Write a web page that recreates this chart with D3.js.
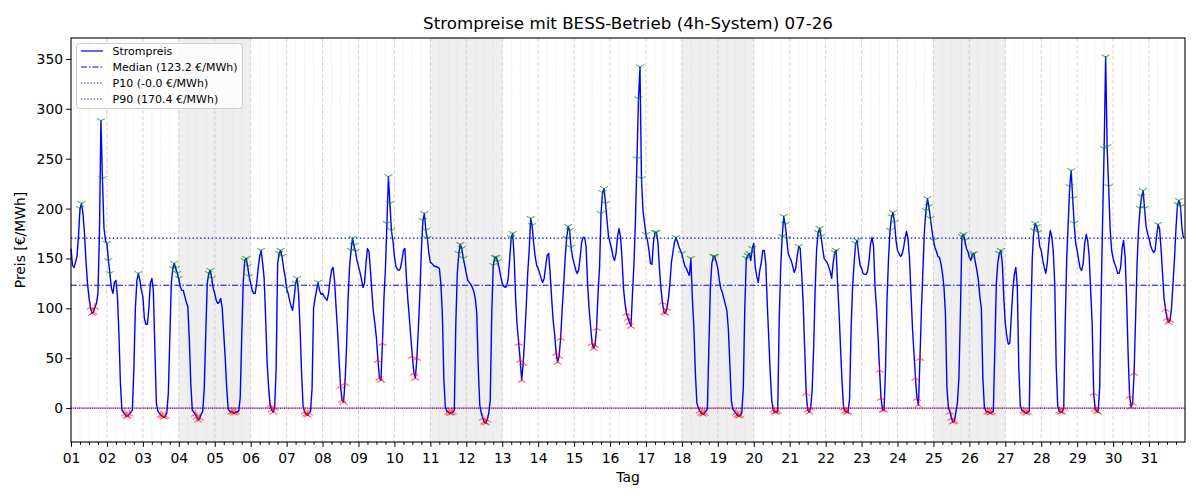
<!DOCTYPE html>
<html>
<head>
<meta charset="utf-8">
<script src="https://cdn.jsdelivr.net/npm/d3@7"></script>
<style>
body { margin: 0; background: #fff; }
text { font-family: "DejaVu Sans", sans-serif; }
</style>
</head>
<body>
<script>
// hourly prices in €/MWh, one array per day of July 2026 (hour 0..23)
const d01 = [160,143,141,146,152,172,200,205,195,175,148,125,111,101,95,96,101,105,115,175,288,230,181,168];
const d02 = [165,148,135,120,115,126,128,112,75,25,-2,-4,-6,-8,-8,-6,-4,-2,40,100,128,135,128,118];
const d03 = [112,90,84,84,100,125,130,118,60,5,-3,-5,-7,-8,-9,-8,-5,15,70,125,140,145,140,135];
const d04 = [130,122,118,118,112,106,102,70,25,-2,-4,-6,-9,-12,-10,-6,-3,20,75,125,135,138,130,120];
const d05 = [115,108,105,106,110,100,75,50,20,-1,-3,-4,-4,-5,-4,-4,-3,10,70,125,148,150,142,132];
const d06 = [125,118,115,115,125,140,152,158,145,130,90,45,20,3,-2,-4,0,40,145,155,158,152,140,132];
const d07 = [120,115,108,102,98,110,125,130,115,80,35,2,-4,-6,-7,-5,-3,20,100,110,118,126,118,114];
const d08 = [115,112,110,108,115,128,138,141,128,102,78,50,22,8,6,25,60,108,141,158,170,163,157,148];
const d09 = [142,136,129,121,125,145,160,157,138,115,96,84,70,48,30,28,65,110,140,185,232,205,178,168];
const d10 = [152,142,139,138,140,148,158,160,131,108,90,70,52,35,30,50,80,115,158,188,195,178,170,155];
const d11 = [146,145,143,142,142,141,140,125,95,30,1,-3,-4,-5,-5,-4,-2,85,135,155,164,160,150,143];
const d12 = [135,128,126,124,121,117,110,95,40,3,-5,-10,-14,-15,-12,-5,8,95,143,151,151,147,140,132];
const d13 = [125,122,121,122,130,150,171,175,150,108,82,65,48,28,45,70,101,135,158,190,183,165,152,143];
const d14 = [140,135,130,126,130,142,153,155,135,110,88,74,55,46,52,70,98,122,150,170,182,178,161,151];
const d15 = [145,139,135,138,150,166,171,171,162,125,100,82,65,60,63,80,115,141,195,216,220,205,188,172];
const d16 = [166,160,152,148,155,172,180,172,150,120,105,95,90,86,82,115,145,190,250,310,342,230,198,186];
const d17 = [174,168,158,145,144,166,176,176,166,140,120,106,96,95,100,110,125,146,156,166,171,167,162,158];
const d18 = [155,148,142,140,136,133,150,110,80,35,5,0,-3,-5,-6,-5,-3,-1,60,120,145,152,152,146];
const d19 = [140,128,120,116,110,104,98,80,45,8,-1,-3,-5,-7,-8,-7,-5,20,100,150,153,155,148,160];
const d20 = [165,141,132,126,138,146,158,158,145,105,70,35,8,-2,-4,-4,-3,90,142,172,192,184,170,155];
const d21 = [151,148,142,136,140,152,162,160,135,105,60,15,-2,-4,0,18,60,120,160,176,180,172,160,150];
const d22 = [148,146,142,137,130,145,156,158,125,95,58,25,0,-3,-4,-4,10,80,122,145,165,168,155,143];
const d23 = [140,135,134,134,137,148,165,171,162,121,100,72,38,10,-2,-2,40,110,150,178,192,196,186,168];
const d24 = [158,155,152,154,160,170,177,170,150,115,80,55,30,10,3,50,100,140,178,198,210,202,190,178];
const d25 = [168,161,157,152,151,145,135,122,95,20,0,-4,-10,-14,-13,-4,5,30,95,172,174,168,160,157];
const d26 = [151,148,154,155,146,138,128,112,100,30,1,-3,-4,-4,-5,-4,-3,60,125,146,155,158,145,110];
const d27 = [85,72,64,65,92,118,134,141,122,40,2,-2,-3,-4,-5,-4,-3,90,150,178,185,182,176,162];
const d28 = [158,148,141,135,145,165,178,172,158,125,41,2,-3,-4,-4,0,85,150,185,222,238,210,185,165];
const d29 = [158,148,140,138,145,165,174,168,152,118,85,15,-1,-3,-4,20,110,190,260,352,262,222,180,158];
const d30 = [150,145,141,135,135,141,160,168,152,110,55,12,1,5,35,90,145,180,200,212,218,200,182,175];
const d31 = [170,163,159,156,158,172,184,180,160,135,110,99,90,86,88,100,125,150,181,204,208,202,180,170];

const days = [d01,d02,d03,d04,d05,d06,d07,d08,d09,d10,d11,d12,d13,d14,d15,d16,
              d17,d18,d19,d20,d21,d22,d23,d24,d25,d26,d27,d28,d29,d30,d31];

const medianPrice = 123.2;
const p10Price = -0.0;
const p90Price = 170.4;
const saturdays = [4, 11, 18, 25];
const yTicks = [0, 50, 100, 150, 200, 250, 300, 350];
const storageHours = 4;

function main(){
    const canvasWidth = 1200;
    const canvasHeight = 500;
    const left = 71, right = 1185, top = 38, bottom = 442;

    const svg = d3.select("body").append("svg")
        .attr("width", canvasWidth)
        .attr("height", canvasHeight);

    const day = d => new Date(Date.UTC(2026, 6, d));
    const xScale = d3.scaleUtc().domain([day(1), day(32)]).range([left, right]);
    const yScale = d3.scaleLinear().domain([-34, 371]).range([bottom, top]);

    const points = [];
    const charge = [];
    const discharge = [];
    days.forEach((vals, i) => {
        const pts = vals.map((v, h) => ({t: new Date(Date.UTC(2026, 6, i + 1, h)), v: v}));
        points.push(...pts);
        // cheapest hours charge, dearest hours discharge
        const order = d3.range(vals.length).sort((a, b) => vals[a] - vals[b]);
        order.slice(0, storageHours).forEach(h => charge.push(pts[h]));
        order.slice(-storageHours).forEach(h => discharge.push(pts[h]));
    });

    // weekend shading
    svg.selectAll(".weekend")
        .data(saturdays)
        .enter()
        .append("rect")
        .attr("x", d => xScale(day(d)))
        .attr("y", top)
        .attr("width", d => xScale(day(d + 2)) - xScale(day(d)))
        .attr("height", bottom - top)
        .attr("fill", "#efefef");

    // vertical grid: dotted every 6 h, dashed every day
    const minorTimes = d3.utcHour.every(6).range(day(1), day(32)).filter(t => t.getUTCHours() !== 0);
    svg.append("g").selectAll("line")
        .data(minorTimes)
        .enter()
        .append("line")
        .attr("x1", d => xScale(d)).attr("x2", d => xScale(d))
        .attr("y1", top).attr("y2", bottom)
        .attr("stroke", "#dcdcdc")
        .attr("stroke-width", 0.8)
        .attr("stroke-dasharray", "1,1.6");

    const dayTimes = d3.range(2, 32).map(day);
    svg.append("g").selectAll("line")
        .data(dayTimes)
        .enter()
        .append("line")
        .attr("x1", d => xScale(d)).attr("x2", d => xScale(d))
        .attr("y1", top).attr("y2", bottom)
        .attr("stroke", "#cccccc")
        .attr("stroke-width", 0.8)
        .attr("stroke-dasharray", "4,2");

    // reference lines
    const hline = (v, color, dash, width) => svg.append("line")
        .attr("x1", left).attr("x2", right)
        .attr("y1", yScale(v)).attr("y2", yScale(v))
        .attr("stroke", color)
        .attr("stroke-width", width)
        .attr("stroke-dasharray", dash);

    hline(medianPrice, "blue", "6,2,1.5,2", 1.1);
    hline(p90Price, "blue", "1.4,2.4", 1.3);
    hline(p10Price, "blue", "1.4,2.4", 1.3);
    hline(0, "red", "1.4,2.4", 1.3).attr("stroke-dashoffset", 1.9);

    // price line
    const line = d3.line().x(d => xScale(d.t)).y(d => yScale(d.v));
    svg.append("path")
        .datum(points)
        .attr("d", line)
        .attr("fill", "none")
        .attr("stroke", "blue")
        .attr("stroke-width", 1.4)
        .attr("stroke-linejoin", "round");

    // tri markers: up for charging, down for discharging
    const r = 4.6, a = r * 0.866, b = r * 0.5;
    const triUp = `M0,0L0,${-r}M0,0L${-a},${b}M0,0L${a},${b}`;
    const triDown = `M0,0L0,${r}M0,0L${-a},${-b}M0,0L${a},${-b}`;

    svg.append("g").selectAll("path")
        .data(discharge)
        .enter()
        .append("path")
        .attr("transform", d => `translate(${xScale(d.t)},${yScale(d.v)})`)
        .attr("d", triDown)
        .attr("fill", "none")
        .attr("stroke", "green")
        .attr("stroke-opacity", 0.6)
        .attr("stroke-width", 1.1);

    svg.append("g").selectAll("path")
        .data(charge)
        .enter()
        .append("path")
        .attr("transform", d => `translate(${xScale(d.t)},${yScale(d.v)})`)
        .attr("d", triUp)
        .attr("fill", "none")
        .attr("stroke", "red")
        .attr("stroke-opacity", 0.6)
        .attr("stroke-width", 1.1);

    // axes
    const xAxis = svg.append("g")
        .attr("transform", `translate(0,${bottom})`)
        .call(d3.axisBottom(xScale)
            .tickValues(d3.range(1, 32).map(day))
            .tickFormat(d3.utcFormat("%d"))
            .tickSize(4.9)
            .tickSizeOuter(0));
    xAxis.selectAll("text").attr("font-size", "13.9px").attr("font-family", "DejaVu Sans").attr("dy", "0.95em");
    xAxis.select(".domain").remove();

    svg.append("g")
        .attr("transform", `translate(0,${bottom})`)
        .call(d3.axisBottom(xScale)
            .tickValues(minorTimes)
            .tickFormat("")
            .tickSize(2.8)
            .tickSizeOuter(0))
        .select(".domain").remove();

    const yAxis = svg.append("g")
        .attr("transform", `translate(${left},0)`)
        .call(d3.axisLeft(yScale)
            .tickValues(yTicks)
            .tickSize(4.9)
            .tickSizeOuter(0));
    yAxis.selectAll("text").attr("font-size", "13.9px").attr("font-family", "DejaVu Sans");
    yAxis.select(".domain").remove();

    svg.append("rect")
        .attr("x", left).attr("y", top)
        .attr("width", right - left).attr("height", bottom - top)
        .attr("fill", "none")
        .attr("stroke", "black")
        .attr("stroke-width", 1.1);

    // labels
    svg.append("text")
        .attr("x", (left + right) / 2)
        .attr("y", 29)
        .attr("text-anchor", "middle")
        .attr("font-size", "16.7px")
        .text("Strompreise mit BESS-Betrieb (4h-System) 07-26");

    svg.append("text")
        .attr("x", (left + right) / 2)
        .attr("y", 482)
        .attr("text-anchor", "middle")
        .attr("font-size", "13.9px")
        .text("Tag");

    svg.append("text")
        .attr("transform", `translate(25,${(top + bottom) / 2}) rotate(-90)`)
        .attr("text-anchor", "middle")
        .attr("font-size", "13.9px")
        .text("Preis [€/MWh]");

    // legend
    const legendItems = [
        {label: "Strompreis", dash: null},
        {label: "Median (" + medianPrice.toFixed(1) + " €/MWh)", dash: "6,2,1.5,2"},
        {label: "P10 (-" + Math.abs(p10Price).toFixed(1) + " €/MWh)", dash: "1.2,2"},
        {label: "P90 (" + p90Price.toFixed(1) + " €/MWh)", dash: "1.2,2"}
    ];
    const legend = svg.append("g").attr("transform", "translate(76.5,43.5)");
    legend.append("rect")
        .attr("width", 166).attr("height", 65)
        .attr("rx", 3)
        .attr("fill", "white").attr("fill-opacity", 0.8)
        .attr("stroke", "#cccccc");
    const rows = legend.selectAll(".row")
        .data(legendItems)
        .enter()
        .append("g")
        .attr("transform", (d, i) => `translate(0,${7.5 + i * 16})`);
    rows.append("line")
        .attr("x1", 4.5).attr("x2", 26.5)
        .attr("stroke", "blue")
        .attr("stroke-width", 1.2)
        .attr("stroke-dasharray", d => d.dash);
    rows.append("text")
        .attr("x", 36)
        .attr("y", 4)
        .attr("font-size", "11px")
        .text(d => d.label);
}
main();
</script>
</body>
</html>
